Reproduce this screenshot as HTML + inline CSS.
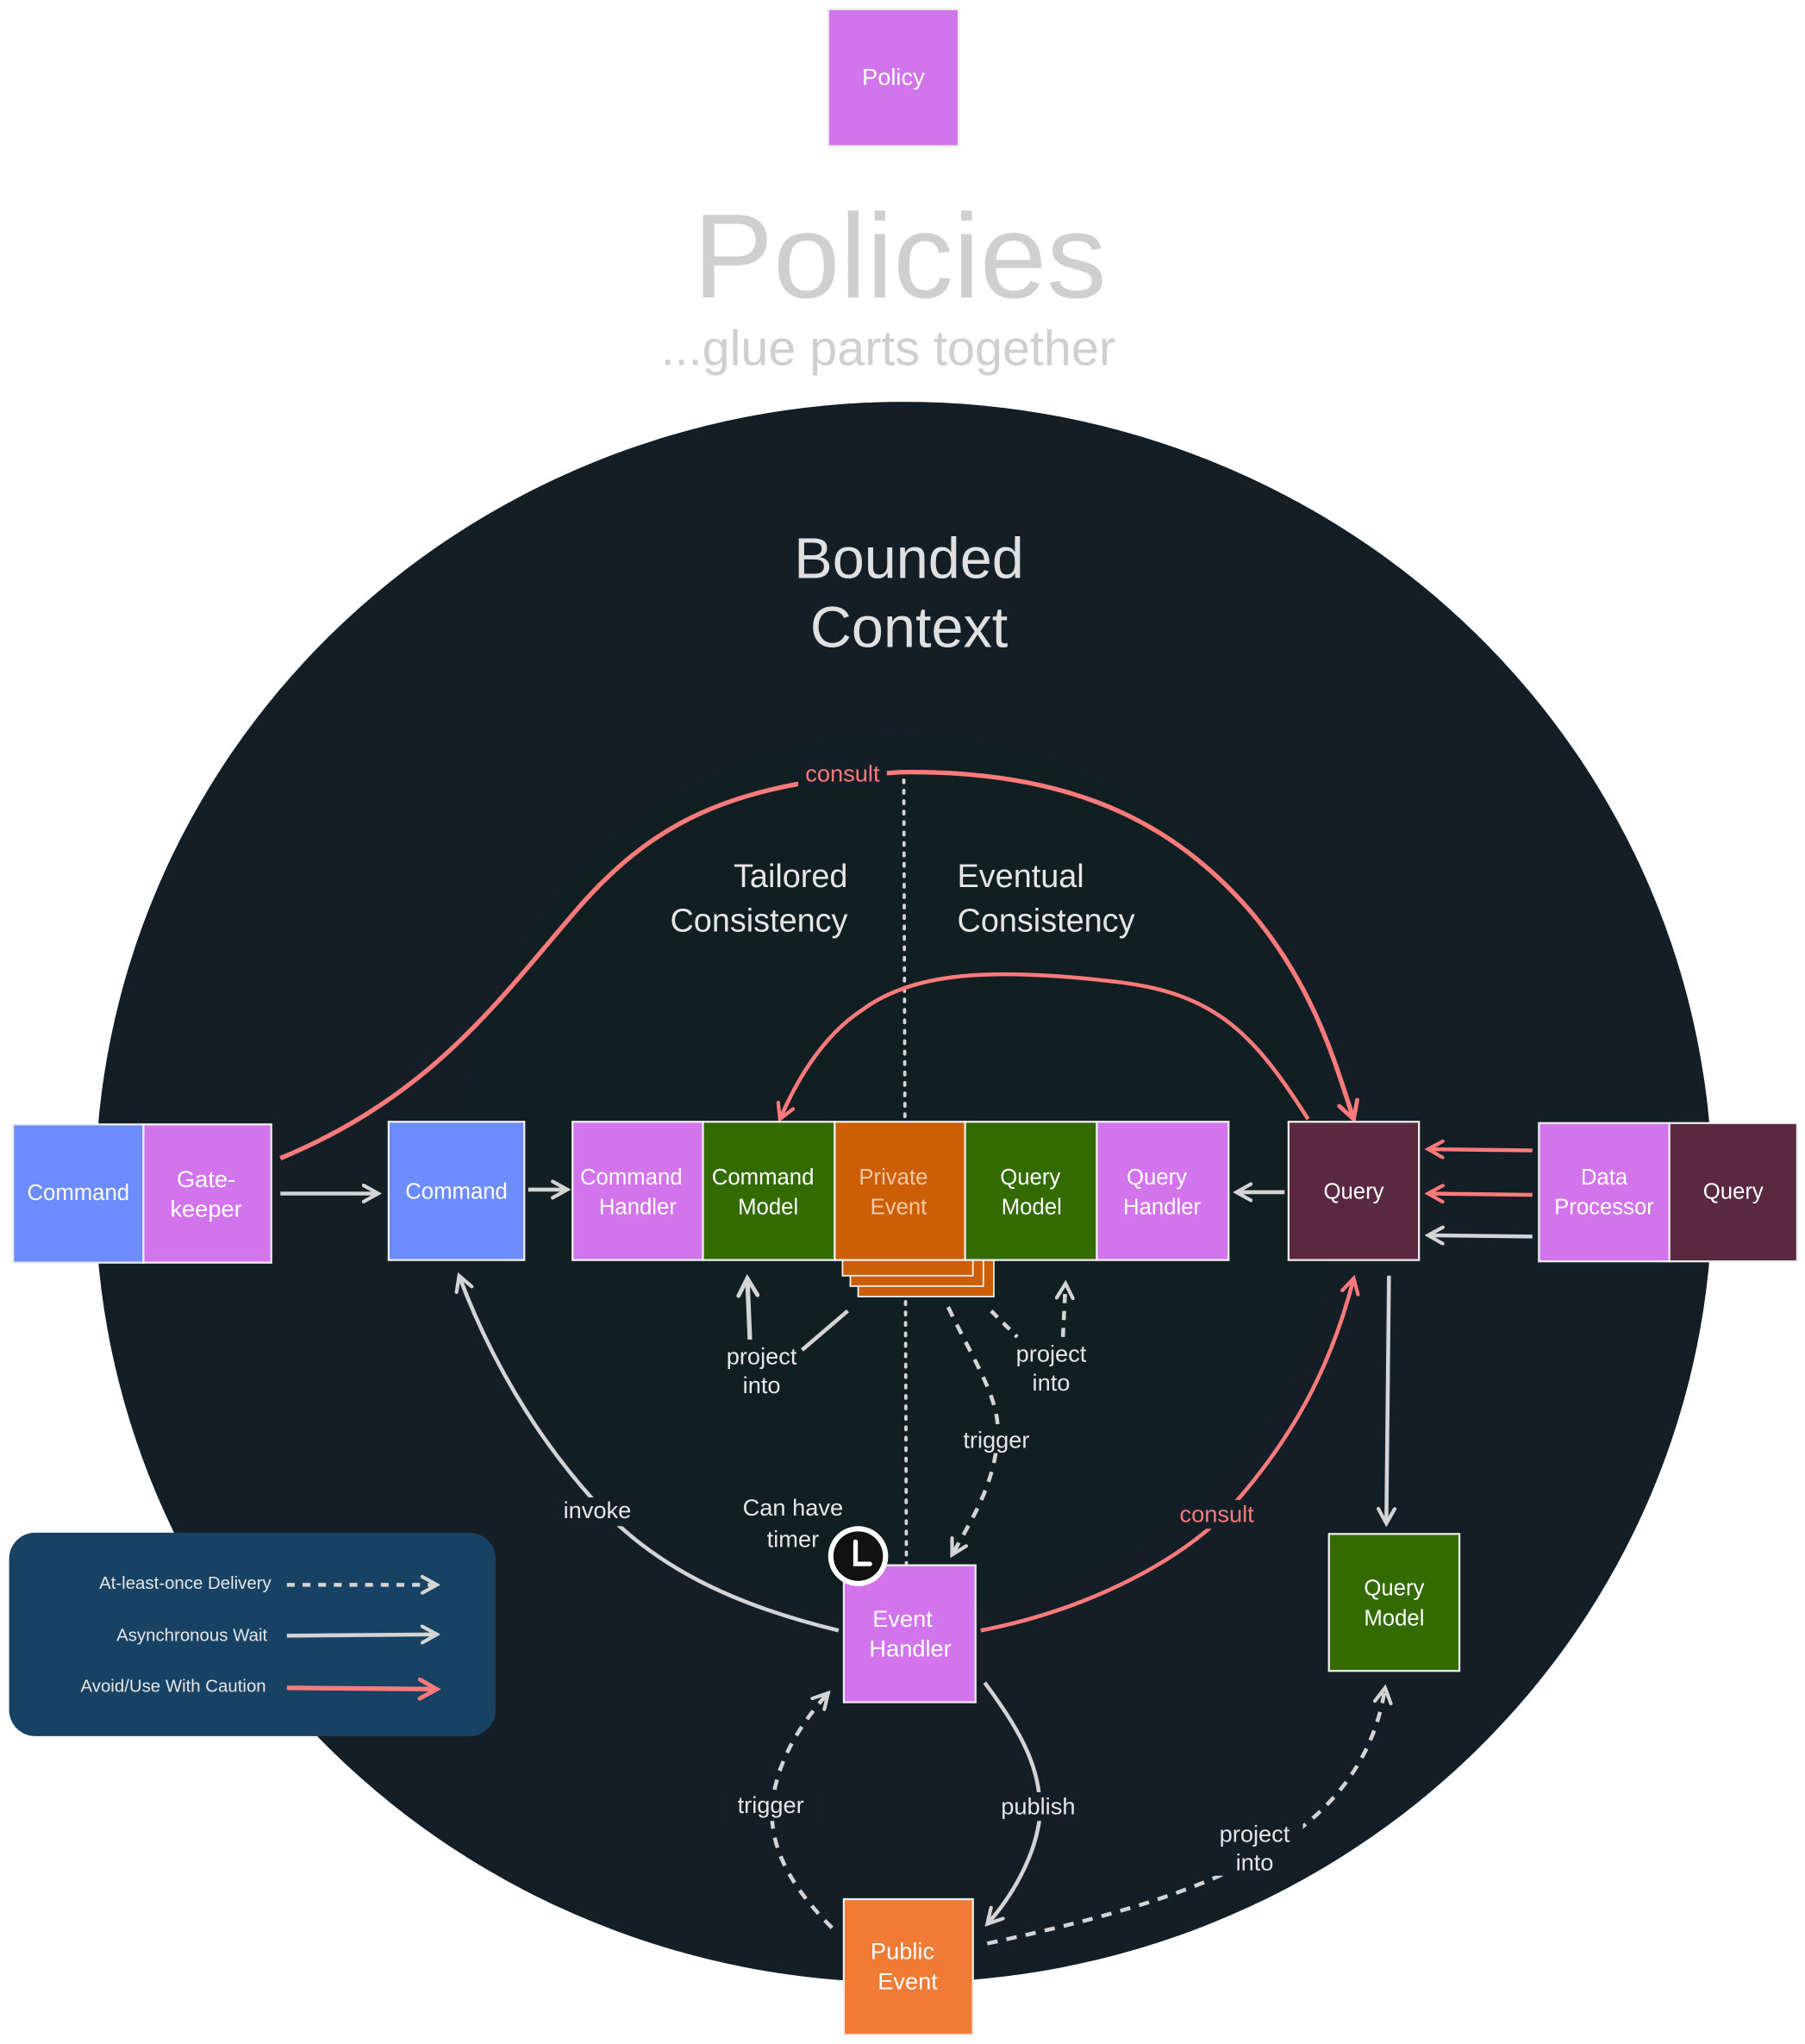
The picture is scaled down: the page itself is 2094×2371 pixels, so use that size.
<!DOCTYPE html>
<html><head><meta charset="utf-8"><style>
html,body{margin:0;padding:0;background:#fff;}
svg{display:block;}
text{font-family:"Liberation Sans",sans-serif;}
</style></head><body>
<svg width="2094" height="2371" viewBox="0 0 1384 1567" xmlns="http://www.w3.org/2000/svg">
<defs>
<marker id="ag" viewBox="0 0 12 12" refX="10" refY="6" markerWidth="5" markerHeight="5" orient="auto-start-reverse" markerUnits="strokeWidth"><path d="M1,1 L10,6 L1,11" fill="none" stroke="#d4d4d4" stroke-width="2.2" stroke-linecap="round"/></marker>
<marker id="ar" viewBox="0 0 12 12" refX="10" refY="6" markerWidth="5" markerHeight="5" orient="auto-start-reverse" markerUnits="strokeWidth"><path d="M1,1 L10,6 L1,11" fill="none" stroke="#ff7a7a" stroke-width="2.2" stroke-linecap="round"/></marker>
</defs>
<rect width="1384" height="1567" fill="#fff"/>
<rect x="635" y="7" width="100" height="105" fill="#d274ec" stroke="#eee" stroke-width="1.5"/>
<text x="685" y="65" font-size="18" fill="#fff" text-anchor="middle">Policy</text>
<text x="690" y="228" font-size="92" fill="#cfcfcf" text-anchor="middle">Policies</text>
<text x="681" y="280" font-size="38" fill="#cfcfcf" text-anchor="middle">...glue parts together</text>
<ellipse cx="693" cy="914" rx="620" ry="606" fill="#131e27"/>
<circle cx="690" cy="900" r="335" fill="#111e22"/>
<text x="697" y="443" font-size="44" fill="#e0e0e0" text-anchor="middle">Bounded</text>
<text x="697" y="496" font-size="44" fill="#e0e0e0" text-anchor="middle">Context</text>
<text x="650" y="680" font-size="25" fill="#e6e6e6" text-anchor="end">Tailored</text>
<text x="650" y="714" font-size="25" fill="#e6e6e6" text-anchor="end">Consistency</text>
<text x="734" y="680" font-size="25" fill="#e6e6e6">Eventual</text>
<text x="734" y="714" font-size="25" fill="#e6e6e6">Consistency</text>
<line x1="693" y1="598" x2="695" y2="1205" stroke="#d4d4d4" stroke-width="2.5" stroke-dasharray="2,6" stroke-linecap="round"/>
<path d="M215,888 C330,840 380,770 440,700 C500,630 560,600 690,592 C820,590 900,630 960,700 C1010,760 1025,820 1038,858" fill="none" stroke="#ff7a7a" stroke-width="3.5" marker-end="url(#ar)"/>
<rect x="612" y="582" width="68" height="22" fill="#131e27"/>
<text x="646" y="599" font-size="18" fill="#ff7a7a" text-anchor="middle">consult</text>
<path d="M1003,858 C960,790 930,760 850,752 C760,742 700,745 660,775 C630,795 610,830 598,858" fill="none" stroke="#ff7a7a" stroke-width="3" marker-end="url(#ar)"/>
<rect x="10" y="862" width="100" height="106" fill="#6c8cff" stroke="#eee" stroke-width="1.5"/>
<text x="60" y="920" font-size="17" fill="#fff" text-anchor="middle">Command</text>
<rect x="110" y="862" width="98" height="106" fill="#d274ec" stroke="#eee" stroke-width="1.5"/>
<text x="158" y="910" font-size="18" fill="#fff" text-anchor="middle">Gate-</text>
<text x="158" y="933" font-size="18" fill="#fff" text-anchor="middle">keeper</text>
<line x1="215" y1="915" x2="290" y2="915" stroke="#d4d4d4" stroke-width="3" marker-end="url(#ag)"/>
<rect x="298" y="860" width="104" height="106" fill="#6c8cff" stroke="#eee" stroke-width="1.5"/>
<text x="350" y="919" font-size="17" fill="#fff" text-anchor="middle">Command</text>
<line x1="405" y1="912" x2="435" y2="912" stroke="#d4d4d4" stroke-width="3" marker-end="url(#ag)"/>
<rect x="658" y="880" width="104" height="114" fill="#cc5f06" stroke="#eee" stroke-width="1.2"/>
<rect x="652" y="874" width="102" height="112" fill="#cc5f06" stroke="#eee" stroke-width="1.2"/>
<rect x="646" y="868" width="100" height="110" fill="#cc5f06" stroke="#eee" stroke-width="1.2"/>
<rect x="439" y="860" width="100" height="106" fill="#d274ec" stroke="#eee" stroke-width="1.5"/>
<text x="484" y="908" font-size="17" fill="#fff" text-anchor="middle">Command</text>
<text x="489" y="931" font-size="17" fill="#fff" text-anchor="middle">Handler</text>
<rect x="539" y="860" width="101" height="106" fill="#336b00" stroke="#eee" stroke-width="1.5"/>
<text x="585" y="908" font-size="17" fill="#fff" text-anchor="middle">Command</text>
<text x="589" y="931" font-size="17" fill="#fff" text-anchor="middle">Model</text>
<rect x="640" y="860" width="100" height="106" fill="#cc5f06" stroke="#eee" stroke-width="1.5"/>
<text x="685" y="908" font-size="17" fill="#f4c9a5" text-anchor="middle">Private</text>
<text x="689" y="931" font-size="17" fill="#f4c9a5" text-anchor="middle">Event</text>
<rect x="740" y="860" width="101" height="106" fill="#336b00" stroke="#eee" stroke-width="1.5"/>
<text x="790" y="908" font-size="17" fill="#fff" text-anchor="middle">Query</text>
<text x="791" y="931" font-size="17" fill="#fff" text-anchor="middle">Model</text>
<rect x="841" y="860" width="101" height="106" fill="#d274ec" stroke="#eee" stroke-width="1.5"/>
<text x="887" y="908" font-size="17" fill="#fff" text-anchor="middle">Query</text>
<text x="891" y="931" font-size="17" fill="#fff" text-anchor="middle">Handler</text>
<line x1="985" y1="914" x2="948" y2="914" stroke="#d4d4d4" stroke-width="3" marker-end="url(#ag)"/>
<rect x="988" y="860" width="100" height="106" fill="#5a2840" stroke="#eee" stroke-width="1.5"/>
<text x="1038" y="919" font-size="17" fill="#fff" text-anchor="middle">Query</text>
<line x1="1175" y1="882" x2="1095" y2="881" stroke="#ff7a7a" stroke-width="3" marker-end="url(#ar)"/>
<line x1="1175" y1="916" x2="1095" y2="915" stroke="#ff7a7a" stroke-width="3" marker-end="url(#ar)"/>
<line x1="1175" y1="948" x2="1095" y2="947" stroke="#d4d4d4" stroke-width="3" marker-end="url(#ag)"/>
<rect x="1180" y="861" width="100" height="106" fill="#d274ec" stroke="#eee" stroke-width="1.5"/>
<text x="1230" y="908" font-size="17" fill="#fff" text-anchor="middle">Data</text>
<text x="1230" y="931" font-size="17" fill="#fff" text-anchor="middle">Processor</text>
<rect x="1280" y="861" width="98" height="106" fill="#5a2840" stroke="#eee" stroke-width="1.5"/>
<text x="1329" y="919" font-size="17" fill="#fff" text-anchor="middle">Query</text>
<line x1="1065" y1="978" x2="1063" y2="1168" stroke="#d4d4d4" stroke-width="3" marker-end="url(#ag)"/>
<rect x="1019" y="1176" width="100" height="105" fill="#336b00" stroke="#eee" stroke-width="1.5"/>
<text x="1069" y="1223" font-size="17" fill="#fff" text-anchor="middle">Query</text>
<text x="1069" y="1246" font-size="17" fill="#fff" text-anchor="middle">Model</text>
<path d="M650,1005 L615,1035" stroke="#d4d4d4" stroke-width="3" fill="none"/>
<line x1="575" y1="1027" x2="573" y2="980" stroke="#d4d4d4" stroke-width="3.5" marker-end="url(#ag)"/>
<text x="584" y="1046" font-size="18" fill="#e6e6e6" text-anchor="middle">project</text>
<text x="584" y="1068" font-size="18" fill="#e6e6e6" text-anchor="middle">into</text>
<path d="M760,1005 L780,1025" stroke="#d4d4d4" stroke-width="3" stroke-dasharray="7,6" fill="none"/>
<line x1="815" y1="1025" x2="817" y2="984" stroke="#d4d4d4" stroke-width="3" stroke-dasharray="7,6" marker-end="url(#ag)"/>
<text x="806" y="1044" font-size="18" fill="#e6e6e6" text-anchor="middle">project</text>
<text x="806" y="1066" font-size="18" fill="#e6e6e6" text-anchor="middle">into</text>
<path d="M727,1002 C745,1040 765,1070 765,1095 C765,1135 745,1165 730,1192" fill="none" stroke="#d4d4d4" stroke-width="3" stroke-dasharray="8,7" marker-end="url(#ag)"/>
<rect x="732" y="1094" width="64" height="20" fill="#111e22"/>
<text x="764" y="1110" font-size="18" fill="#e6e6e6" text-anchor="middle">trigger</text>
<path d="M643,1250 C560,1230 500,1200 455,1150 C410,1100 375,1040 352,978" fill="none" stroke="#d4d4d4" stroke-width="3" marker-end="url(#ag)"/>
<rect x="428" y="1148" width="62" height="22" fill="#131e27"/>
<text x="458" y="1164" font-size="18" fill="#e6e6e6" text-anchor="middle">invoke</text>
<path d="M752,1250 C830,1235 900,1200 940,1160 C990,1105 1020,1050 1038,980" fill="none" stroke="#ff7a7a" stroke-width="3" marker-end="url(#ar)"/>
<rect x="900" y="1150" width="66" height="22" fill="#131e27"/>
<text x="933" y="1167" font-size="18" fill="#ff7a7a" text-anchor="middle">consult</text>
<text x="608" y="1162" font-size="18" fill="#e6e6e6" text-anchor="middle">Can have</text>
<text x="608" y="1186" font-size="18" fill="#e6e6e6" text-anchor="middle">timer</text>
<rect x="647" y="1200" width="101" height="105" fill="#d274ec" stroke="#eee" stroke-width="1.5"/>
<text x="692" y="1247" font-size="18" fill="#fff" text-anchor="middle">Event</text>
<text x="698" y="1270" font-size="18" fill="#fff" text-anchor="middle">Handler</text>
<circle cx="658" cy="1193" r="23" fill="#fff"/>
<circle cx="658" cy="1193" r="19" fill="#111"/>
<path d="M656,1182 L656,1199 L667,1199" stroke="#fff" stroke-width="3.5" fill="none" stroke-linecap="round"/>
<path d="M638,1478 C610,1450 590,1420 592,1385 C595,1350 615,1320 635,1298" fill="none" stroke="#d4d4d4" stroke-width="3" stroke-dasharray="8,7" marker-end="url(#ag)"/>
<rect x="560" y="1374" width="64" height="22" fill="#131e27"/>
<text x="591" y="1390" font-size="18" fill="#e6e6e6" text-anchor="middle">trigger</text>
<path d="M755,1290 C785,1330 800,1360 797,1395 C793,1425 775,1455 757,1475" fill="none" stroke="#d4d4d4" stroke-width="3" marker-end="url(#ag)"/>
<rect x="764" y="1374" width="66" height="22" fill="#131e27"/>
<text x="796" y="1391" font-size="18" fill="#e6e6e6" text-anchor="middle">publish</text>
<path d="M757,1490 C850,1470 920,1450 970,1420 C1030,1385 1055,1340 1062,1294" fill="none" stroke="#d4d4d4" stroke-width="3" stroke-dasharray="8,7" marker-end="url(#ag)"/>
<rect x="925" y="1394" width="74" height="44" fill="#131e27"/>
<text x="962" y="1412" font-size="18" fill="#e6e6e6" text-anchor="middle">project</text>
<text x="962" y="1434" font-size="18" fill="#e6e6e6" text-anchor="middle">into</text>
<rect x="647" y="1456" width="99" height="104" fill="#f07b35" stroke="#eee" stroke-width="1.5"/>
<text x="692" y="1502" font-size="18" fill="#fff" text-anchor="middle">Public</text>
<text x="696" y="1525" font-size="18" fill="#fff" text-anchor="middle">Event</text>
<rect x="7" y="1175" width="373" height="156" rx="20" fill="#184263"/>
<text x="208" y="1218" font-size="13.5" fill="#e6e6e6" text-anchor="end">At-least-once Delivery</text>
<text x="205" y="1258" font-size="13.5" fill="#e6e6e6" text-anchor="end">Asynchronous Wait</text>
<text x="204" y="1297" font-size="13.5" fill="#e6e6e6" text-anchor="end">Avoid/Use With Caution</text>
<line x1="220" y1="1215" x2="335" y2="1215" stroke="#d4d4d4" stroke-width="3" stroke-dasharray="6,6" marker-end="url(#ag)"/>
<line x1="220" y1="1254" x2="335" y2="1253" stroke="#d4d4d4" stroke-width="3" marker-end="url(#ag)"/>
<line x1="220" y1="1294" x2="335" y2="1295" stroke="#ff7a7a" stroke-width="3.5" marker-end="url(#ar)"/>
</svg>
</body></html>
